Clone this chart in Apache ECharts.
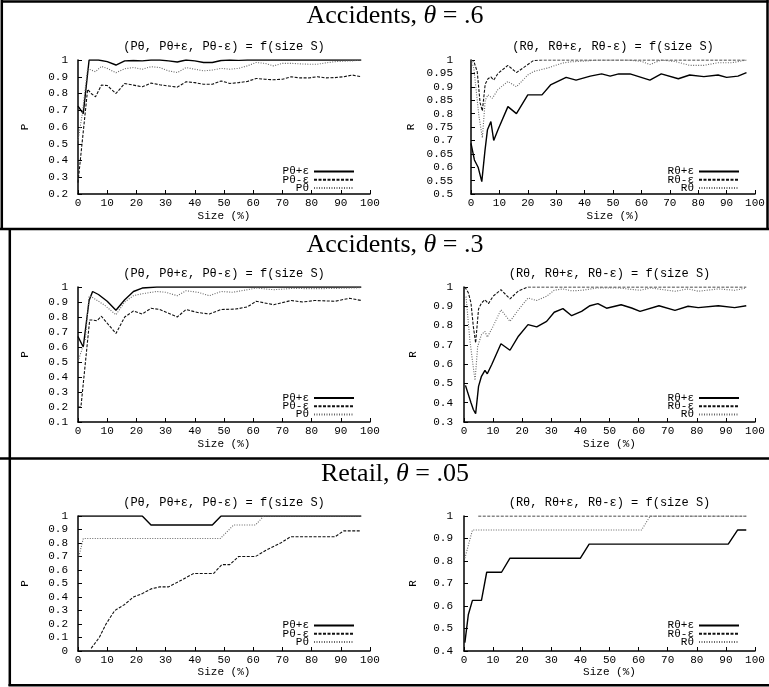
<!DOCTYPE html>
<html><head><meta charset="utf-8">
<script src="https://cdn.jsdelivr.net/npm/echarts@6/dist/echarts.min.js"></script>
<style>html,body{margin:0;padding:0;background:#fff}#c{width:769px;height:687px}</style>
</head><body><div id="c"></div>
<script>
// ---------- text ----------
const sectionTitles = ['Accidents, {i|θ} = .6', 'Accidents, {i|θ} = .3', 'Retail, {i|θ} = .05'];
const pNames = ['Pθ+ε', 'Pθ-ε', 'Pθ'];
const rNames = ['Rθ+ε', 'Rθ-ε', 'Rθ'];
const pSubtitle = '(Pθ, Pθ+ε, Pθ-ε) = f(size S)';
const rSubtitle = '(Rθ, Rθ+ε, Rθ-ε) = f(size S)';
const xName = 'Size (%)';

// ---------- Accidents, theta = .6 : P ----------
const acc6_Pplus = [[0,0.725],[1.8,0.68],[3.8,1.0],[7,1.0],[10,0.99],[13,0.97],[16,0.995],[19,0.997],[22,0.995],[25,1.0],[28,1.0],[31,0.995],[34,0.988],[37,1.0],[40,0.995],[43,0.985],[46,0.985],[49,0.997],[52,1.0],[55,0.998],[58,1.0],[64,1.0],[70,1.0],[76,1.0],[82,1.0],[88,1.0],[94,1.0],[97,1.0]];
const acc6_Pminus = [[0,0.268],[3.3,0.825],[4.5,0.80],[6,0.78],[8,0.85],[10,0.848],[13,0.80],[16,0.86],[19,0.85],[22,0.84],[25,0.862],[28,0.852],[31,0.845],[34,0.838],[37,0.87],[40,0.865],[43,0.855],[46,0.855],[49,0.875],[52,0.86],[55,0.865],[58,0.872],[61,0.89],[64,0.885],[67,0.882],[70,0.885],[73,0.9],[76,0.893],[79,0.893],[82,0.9],[85,0.893],[88,0.895],[91,0.9],[94,0.91],[97,0.9]];
const acc6_P = [[0,0.52],[1.5,0.68],[3.3,0.95],[4.5,0.94],[6,0.93],[8,0.962],[10,0.95],[13,0.924],[16,0.948],[19,0.955],[22,0.945],[25,0.96],[28,0.955],[31,0.935],[34,0.925],[37,0.955],[40,0.945],[43,0.935],[46,0.94],[49,0.95],[52,0.945],[55,0.95],[58,0.965],[61,0.985],[64,0.98],[67,0.965],[70,0.98],[73,0.98],[76,0.977],[79,0.975],[82,0.975],[85,0.983],[88,0.99],[91,0.993],[94,0.995],[97,1.0]];

// ---------- Accidents, theta = .6 : R ----------
const acc6_Rplus = [[0,0.689],[1.2,0.627],[2.5,0.60],[3.8,0.546],[4.9,0.66],[5.8,0.74],[7,0.77],[8,0.70],[9.5,0.74],[13,0.826],[16,0.80],[20,0.87],[25,0.87],[28,0.907],[33.5,0.935],[37,0.925],[42,0.94],[46,0.948],[49,0.94],[52,0.948],[56,0.948],[63,0.925],[67,0.948],[73,0.93],[77,0.944],[82,0.938],[87,0.944],[90,0.935],[94,0.94],[97,0.953]];
const acc6_Rminus = [[0,1.0],[1,0.995],[2.2,0.956],[3.2,0.84],[4,0.81],[5,0.91],[6,0.93],[7,0.937],[8,0.925],[9.5,0.95],[13,0.98],[16,0.953],[22,0.998],[25,1.0],[40,1.0],[60,1.0],[80,1.0],[97,1.0]];
const acc6_R = [[0,1.0],[1,0.97],[2.8,0.79],[4,0.71],[5,0.85],[6,0.87],[7.5,0.857],[9.5,0.89],[13,0.92],[16,0.90],[20,0.944],[22,0.957],[27,0.97],[32,0.988],[35,0.993],[40,0.996],[45,1.0],[55,1.0],[60,0.995],[63,0.983],[67,1.0],[72,0.994],[77,0.98],[82,0.98],[87,0.99],[92,0.99],[97,1.0]];

// ---------- Accidents, theta = .3 : P ----------
const acc3_Pplus = [[0,0.67],[1.8,0.6],[3.8,0.91],[5,0.97],[7,0.95],[10,0.905],[13,0.845],[16,0.915],[19,0.97],[22,0.993],[27,1.0],[40,1.0],[60,1.0],[80,1.0],[97,1.0]];
const acc3_Pminus = [[0,0.2],[1,0.2],[4,0.78],[5,0.78],[6.5,0.775],[8,0.805],[13,0.69],[16,0.80],[19,0.84],[22,0.82],[25,0.858],[28,0.85],[34,0.80],[37,0.85],[41,0.83],[45,0.82],[49,0.85],[54,0.853],[58,0.867],[61,0.905],[67,0.882],[73,0.91],[77,0.9],[81,0.91],[88,0.905],[93,0.925],[97,0.91]];
const acc3_P = [[0,0.505],[2.5,0.65],[3.8,0.94],[5,0.93],[9,0.88],[13,0.815],[16,0.9],[19,0.942],[22,0.955],[27,0.97],[30,0.965],[34,0.942],[37,0.975],[41,0.965],[45,0.942],[49,0.97],[53,0.965],[58,0.982],[61,0.993],[67,0.982],[73,0.99],[81,0.989],[88,0.99],[97,0.995]];

// ---------- Accidents, theta = .3 : R ----------
const acc3_Rplus = [[0.5,0.49],[2.4,0.40],[3.2,0.365],[4,0.343],[5,0.485],[6,0.537],[7.2,0.568],[8,0.55],[9.5,0.597],[12.7,0.706],[15.8,0.672],[18.7,0.745],[22,0.805],[25,0.793],[28.4,0.822],[31,0.869],[34,0.888],[37,0.851],[40.4,0.874],[43.3,0.903],[46,0.914],[49,0.89],[54,0.908],[57.6,0.891],[60.5,0.874],[67,0.903],[72.5,0.879],[77,0.9],[80.5,0.893],[87.4,0.903],[93,0.893],[97,0.903]];
const acc3_Rminus = [[0.3,1.0],[1.5,0.97],[2.4,0.917],[3.2,0.796],[4,0.71],[5,0.886],[6,0.917],[7.2,0.934],[8.4,0.914],[10,0.952],[12.7,0.986],[15.8,0.938],[18.7,0.98],[22,1.0],[40,1.0],[60,1.0],[80,1.0],[97,1.0]];
const acc3_R = [[0.7,0.95],[2,0.727],[3,0.606],[3.8,0.516],[4.7,0.692],[6,0.753],[7.2,0.77],[8,0.74],[10,0.796],[12.7,0.882],[15.8,0.822],[18.7,0.882],[22,0.943],[25,0.93],[28.4,0.952],[31,0.983],[34,0.99],[37,0.98],[40.4,0.983],[46,0.995],[53,0.995],[60.5,0.983],[64,0.995],[72.5,0.978],[77,0.99],[80.5,0.978],[87.4,0.99],[93,0.983],[97,0.995]];

// ---------- Retail, theta = .05 : P ----------
const ret_Pplus = [[0,1],[22,1],[25,0.933],[46,0.933],[49,1],[97,1]];
const ret_Pminus = [[4.5,0.02],[7.3,0.1],[9.6,0.2],[12.6,0.3],[16,0.345],[19,0.40],[22,0.425],[25,0.46],[28,0.475],[31,0.475],[35,0.52],[39.6,0.574],[46.4,0.574],[49.3,0.64],[52,0.64],[55,0.70],[60.8,0.70],[64.7,0.75],[69.4,0.80],[72.8,0.846],[88,0.846],[91,0.89],[97,0.89]];
const ret_P = [[0.3,0.70],[1.8,0.833],[48.7,0.833],[53.3,0.933],[60.8,0.933],[63.6,1.0],[97,1.0]];

// ---------- Retail, theta = .05 : R ----------
const ret_Rplus = [[0.3,0.4375],[1.5,0.5625],[2.9,0.625],[6,0.625],[7.8,0.75],[12.9,0.75],[15.8,0.8125],[40,0.8125],[43,0.875],[90.8,0.875],[94,0.9375],[97,0.9375]];
const ret_Rminus = [[4.9,1],[97,1]];
const ret_R = [[0.3,0.8125],[2.9,0.9375],[61,0.9375],[64,1.0],[97,1.0]];

// ---------- axis ranges ----------
const yRanges = [[0.2,1,0.1],[0.5,1,0.05],[0.1,1,0.1],[0.3,1,0.1],[0,1,0.1],[0.4,1,0.1]];
const xRange = [0,100,10];

// ---------- layout (positions only) ----------
const layouts = [
  {left:78,  right:399, top:60,  bottom:493, lblM:10, nameGap:47, legRight:414, legTop:166, xNameGap:17, subX:224,   subY:47},
  {left:471, right:14,  top:60,  bottom:493, lblM:18, nameGap:54, legRight:29,  legTop:166, xNameGap:17, subX:613,   subY:47},
  {left:78,  right:399, top:287, bottom:265, lblM:10, nameGap:47, legRight:414, legTop:392.5, xNameGap:17, subX:224, subY:274},
  {left:464, right:14,  top:287, bottom:265, lblM:11, nameGap:45, legRight:29,  legTop:392.5, xNameGap:17, subX:609.5, subY:274},
  {left:78,  right:399, top:516, bottom:36,  lblM:10, nameGap:47, legRight:414, legTop:620, xNameGap:15, subX:224,   subY:503},
  {left:464, right:14,  top:516, bottom:36,  lblM:11, nameGap:45, legRight:29,  legTop:620, xNameGap:15, subX:609.5, subY:503}
];
const titleY = [16, 245, 474];

const plotData = [
  [acc6_Pplus, acc6_Pminus, acc6_P],
  [acc6_Rplus, acc6_Rminus, acc6_R],
  [acc3_Pplus, acc3_Pminus, acc3_P],
  [acc3_Rplus, acc3_Rminus, acc3_R],
  [ret_Pplus, ret_Pminus, ret_P],
  [ret_Rplus, ret_Rminus, ret_R]
];

const MONO = 'Liberation Mono';
const SERIF = 'Liberation Serif';
const lineStyles = [
  {color:'#000', width:1.4, type:'solid'},
  {color:'#111', width:1.1, type:[3,1.5]},
  {color:'#666', width:1.1, type:[1,1.5]}
];

const grid = [], xAxis = [], yAxis = [], series = [], legend = [], graphic = [];
layouts.forEach((L, i) => {
  const isP = i % 2 === 0;
  const names = isP ? pNames : rNames;
  const yr = yRanges[i];
  grid.push({left:L.left, right:L.right, top:L.top, bottom:L.bottom, containLabel:false});
  xAxis.push({
    gridIndex:i, type:'value', min:xRange[0], max:xRange[1], interval:xRange[2],
    axisLine:{onZero:false, lineStyle:{color:'#000', width:1.5}},
    axisTick:{show:true, inside:true, length:4, lineStyle:{color:'#000', width:1}},
    axisLabel:{color:'#000', fontFamily:MONO, fontSize:11, margin:4},
    splitLine:{show:false},
    name:xName, nameLocation:'middle', nameGap:L.xNameGap,
    nameTextStyle:{color:'#000', fontFamily:MONO, fontSize:11}
  });
  yAxis.push({
    gridIndex:i, type:'value', min:yr[0], max:yr[1], interval:yr[2],
    axisLine:{show:true, onZero:false, lineStyle:{color:'#000', width:1.5}},
    axisTick:{show:true, inside:true, length:4, lineStyle:{color:'#000', width:1}},
    axisLabel:{color:'#000', fontFamily:MONO, fontSize:11, margin:L.lblM},
    splitLine:{show:false},
    name:isP ? 'P' : 'R', nameLocation:'middle', nameRotate:90, nameGap:L.nameGap,
    nameTextStyle:{color:'#000', fontFamily:MONO, fontSize:11}
  });
  plotData[i].forEach((d, k) => {
    series.push({
      type:'line', name:names[k], xAxisIndex:i, yAxisIndex:i, data:d,
      symbol:'none', showSymbol:false, silent:true, animation:false,
      color:lineStyles[k].color,
      lineStyle:{color:lineStyles[k].color, width:lineStyles[k].width, type:lineStyles[k].type}
    });
  });
  legend.push({
    show:true, orient:'vertical', align:'right', right:L.legRight, top:L.legTop,
    itemWidth:40, itemHeight:8, itemGap:-2.8, padding:0, selectedMode:false,
    itemStyle:{opacity:0, color:'transparent', borderColor:'transparent', borderWidth:0},
    textStyle:{color:'#000', fontFamily:MONO, fontSize:11, lineHeight:8},
    data:names.slice()
  });
  graphic.push({type:'text', x:L.subX, y:L.subY, silent:true,
    style:{text:isP ? pSubtitle : rSubtitle, fill:'#000', fontFamily:MONO, fontSize:12, align:'center', verticalAlign:'middle'}});
});

sectionTitles.forEach((t, s) => {
  graphic.push({type:'text', x:395, y:titleY[s], silent:true,
    style:{text:t, fill:'#000', fontFamily:SERIF, fontSize:26, align:'center', verticalAlign:'middle',
      rich:{i:{fontFamily:SERIF, fontSize:26, fontStyle:'italic', fill:'#000'}}}});
});

// frame lines
const frame = [
  [1, 1.5, 768.5, 1.5],
  [1.8, 0, 1.8, 230],
  [767.5, 0, 767.5, 230],
  [0, 229, 769, 229],
  [9.8, 229, 9.8, 686],
  [0, 458.5, 769, 458.5],
  [8.5, 685.3, 769, 685.3]
];
frame.forEach(f => graphic.push({type:'line', silent:true,
  shape:{x1:f[0], y1:f[1], x2:f[2], y2:f[3]}, style:{stroke:'#000', lineWidth:2.5}}));

const chart = echarts.init(document.getElementById('c'), null, {renderer:'canvas'});
chart.setOption({animation:false, backgroundColor:'#fff', grid, xAxis, yAxis, series, legend, graphic});
</script>
</body></html>
